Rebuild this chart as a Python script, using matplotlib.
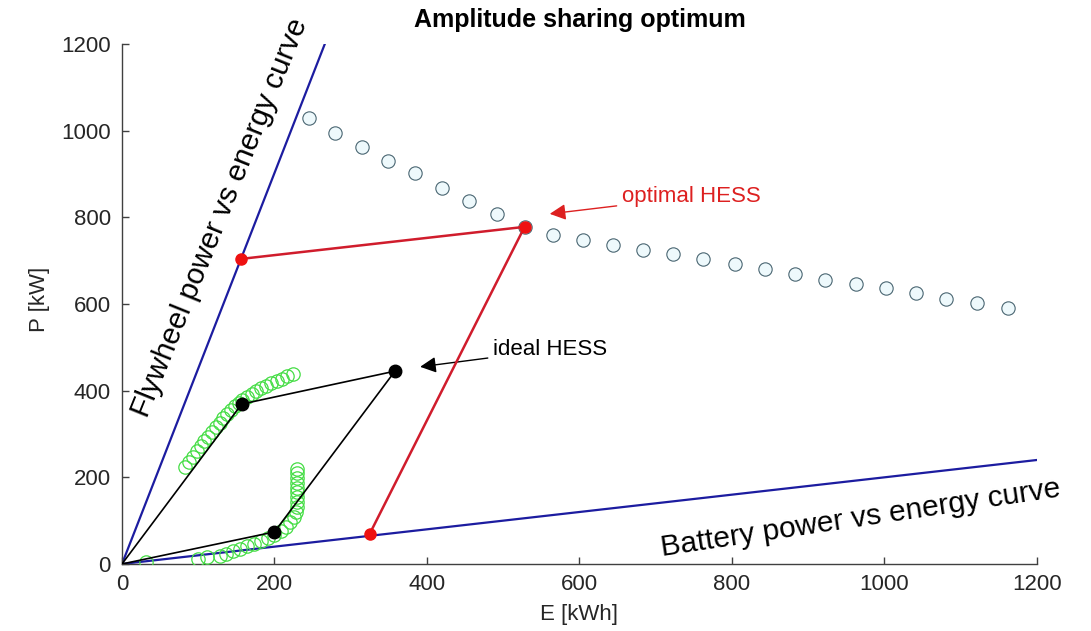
import matplotlib
matplotlib.use("Agg")
import matplotlib.pyplot as plt

plt.rcParams['font.family'] = ['Liberation Sans', 'DejaVu Sans']

# data
e_range = [0, 1200]
fly_e = [0, 266]          # flywheel power vs energy line
fly_p = [0, 1200]
bat_e = [0, 1200]         # battery power vs energy line
bat_p = [0, 240]

# amplitude sharing curve (blue circles)
opt_e = [245, 279, 315, 349, 384, 420, 455, 492, 528, 565, 605, 644, 683,
         723, 762, 804, 843, 883, 922, 963, 1002, 1041, 1081, 1121, 1162]
opt_p = [1029, 994, 962, 930, 902, 868, 838, 808, 778, 759, 748, 736, 725,
         715, 703, 692, 681, 669, 655, 646, 637, 625, 611, 602, 591]

# trajectory of the ideal HESS (green circles), upper branch
up_e = [83, 88, 93, 98, 103, 108, 113, 118, 123, 128, 133, 138, 143, 148,
        153, 158, 164, 170, 176, 182, 189, 196, 203, 210, 217, 224]
up_p = [224, 236, 248, 260, 272, 283, 294, 305, 316, 326, 336, 346, 355, 364,
        372, 379, 386, 393, 399, 405, 411, 417, 422, 428, 433, 438]
# lower branch
low_e = [32, 100, 112, 128, 137, 146, 155, 164, 173, 182, 191, 200, 208, 215,
         221, 225, 228, 229, 229, 229, 229, 229, 229, 229, 229, 229]
low_p = [4, 12, 15, 19, 24, 29, 35, 41, 47, 53, 60, 67, 76, 86,
         97, 108, 120, 132, 143, 154, 165, 176, 187, 198, 209, 220]

# ideal HESS polygon (black)
ideal_e = [0, 157, 358, 200, 0]
ideal_p = [0, 369, 445, 74, 0]

# optimal HESS (red)
optim_e = [156, 528, 325]
optim_p = [704, 778, 70]

fig = plt.figure(figsize=(10.91, 6.31), dpi=100)
ax = fig.add_axes([0.1118, 0.1062, 0.8387, 0.8241])

grey = '#404040'

ax.plot(fly_e, fly_p, color='#1c1ca0', lw=1.6, zorder=2)
ax.plot(bat_e, bat_p, color='#1c1ca0', lw=1.6, zorder=2)

ax.plot(opt_e, opt_p, 'o', ms=9.6, mfc='#eef9fc', mec='#4a6672', mew=0.8, zorder=3)

ax.plot(up_e, up_p, 'o', ms=9.6, mfc='none', mec='#44dd44', mew=0.9, zorder=3)
ax.plot(low_e, low_p, 'o', ms=9.6, mfc='none', mec='#44dd44', mew=0.9, zorder=3)

ax.plot(ideal_e, ideal_p, '-', color='black', lw=1.2, zorder=4)
ax.plot(ideal_e[1:4], ideal_p[1:4], 'o', color='black', ms=9, zorder=5)

ax.plot(optim_e, optim_p, '-', color='#d01c2c', lw=1.8, zorder=4)
ax.plot(optim_e, optim_p, 'o', color='#ee1111', ms=8, zorder=5)

ax.annotate('optimal HESS', xy=(561, 808), xytext=(656, 847),
            color='#dd2020', fontsize=16, va='center', ha='left',
            arrowprops=dict(arrowstyle='-|>', color='#dd2020', lw=1.0,
                            mutation_scale=24, shrinkA=2, shrinkB=0))
ax.annotate('ideal HESS', xy=(391, 455), xytext=(487, 494),
            color='black', fontsize=16, va='center', ha='left',
            arrowprops=dict(arrowstyle='-|>', color='black', lw=1.0,
                            mutation_scale=24, shrinkA=2, shrinkB=0))

ax.text(129, 800, 'Flywheel power vs energy curve', rotation=68,
        fontsize=21.5, ha='center', va='center', rotation_mode='anchor')
ax.text(969, 106, 'Battery power vs energy curve', rotation=8.5,
        fontsize=21.5, ha='center', va='center', rotation_mode='anchor')

ax.set_xlim(e_range)
ax.set_ylim(e_range)
ax.set_xticks(range(0, 1201, 200))
ax.set_yticks(range(0, 1201, 200))
ax.tick_params(direction='in', length=5, width=1, colors=grey,
               labelcolor='#262626', labelsize=16)
ax.tick_params(axis='y', pad=8)
ax.tick_params(axis='x', pad=7)
for s in ['top', 'right']:
    ax.spines[s].set_visible(False)
for s in ['left', 'bottom']:
    ax.spines[s].set_color(grey)
    ax.spines[s].set_linewidth(1.0)

ax.set_xlabel('E [kWh]', fontsize=16, color='#262626', va='center')
ax.set_ylabel('P [kW]', fontsize=16, color='#262626', va='center')
ax.xaxis.set_label_coords(0.5, -0.098)
ax.yaxis.set_label_coords(-0.0896, 0.508)

ax.set_title('Amplitude sharing optimum', fontsize=18, fontweight='bold',
             y=1.046, va='center', pad=0)

fig.savefig('out.png', dpi=100)
